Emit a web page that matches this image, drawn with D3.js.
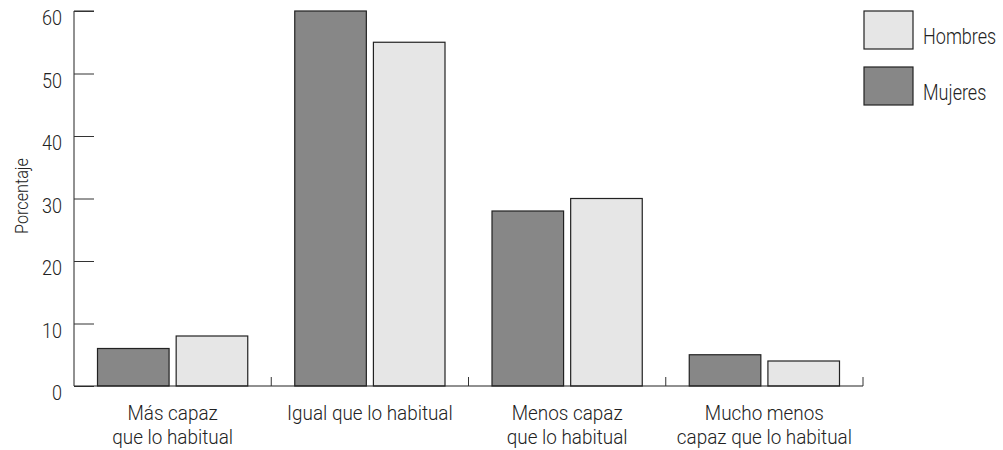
<!DOCTYPE html>
<html><head><meta charset="utf-8">
<script src="https://cdn.jsdelivr.net/npm/d3@7"></script>
<style>body{margin:0;background:#fff}text{font-family:Roboto,"Noto Sans",sans-serif;font-weight:300;fill:#222}</style>
</head><body>
<svg id="c" width="1003" height="450"></svg>
<script>
const categories = [["Más capaz","que lo habitual"],["Igual que lo habitual"],["Menos capaz","que lo habitual"],["Mucho menos","capaz que lo habitual"]];
const series = ["Mujeres","Hombres"];
const mujeres = [6,60,28,5];
const hombres = [8,55,30,4];
const yTicks = [0,10,20,30,40,50,60];
const legendOrder = ["Hombres","Mujeres"];
const colors = {Mujeres:"#878787", Hombres:"#e6e6e6"};

const svg = d3.select("#c");
const mLeft = 74, mRight = 863, mTop = 11, mBottom = 386;
const x = d3.scaleBand().domain(d3.range(categories.length)).range([mLeft,mRight]).paddingInner(0).paddingOuter(0);
const xs = d3.scaleBand().domain(series).range([23.5, x.bandwidth()-23.5]).paddingInner(0.09);
const y = d3.scaleLinear().domain([0,60]).range([mBottom,mTop]);

// condensed-looking text helper
function ctext(px, py, str, size, sx, anchor, rot){
  return svg.append("g").attr("transform",`translate(${px},${py}) rotate(${rot||0}) scale(${sx},1)`)
    .append("text").attr("text-anchor",anchor||"start").attr("font-size",size).text(str);
}

const vals = {Mujeres:mujeres, Hombres:hombres};
const g = svg.append("g");
series.forEach(s=>{
  g.selectAll(null).data(vals[s]).enter().append("rect")
    .attr("x",(d,i)=>x(i)+xs(s)).attr("width",xs.bandwidth())
    .attr("y",d=>y(d)).attr("height",d=>y(0)-y(d))
    .attr("fill",colors[s]).attr("stroke","#222").attr("stroke-width",1.2);
});

// y axis
const ya = svg.append("g").attr("transform",`translate(${mLeft},0)`)
  .call(d3.axisRight(y).tickValues(yTicks).tickSize(20).tickFormat(""));
ya.select(".domain").attr("d",`M20,${mTop}H0V${mBottom}`).attr("stroke","#222");
ya.selectAll(".tick line").attr("stroke","#333");
yTicks.forEach(d=>ctext(62, y(d)+14, d, 21, 0.86, "end"));

// x axis
const boundaries = d3.range(1,categories.length+1).map(i=>mLeft+i*x.bandwidth());
svg.append("line").attr("x1",mLeft).attr("x2",mRight).attr("y1",mBottom).attr("y2",mBottom).attr("stroke","#222").attr("stroke-width",1.2);
svg.selectAll(".xt").data(boundaries).enter().append("line")
  .attr("x1",d=>d).attr("x2",d=>d).attr("y1",mBottom).attr("y2",mBottom-9).attr("stroke","#333");
categories.forEach((lines,i)=>{
  const cx = x(i)+x.bandwidth()/2;
  lines.forEach((l,j)=>ctext(cx, 420+j*23.5, l, 21, 0.9, "middle"));
});

ctext(28, 196, "Porcentaje", 18, 0.9, "middle", -90);

// legend
legendOrder.forEach((s,i)=>{
  const yy = 11 + i*56;
  svg.append("rect").attr("x",864).attr("y",yy).attr("width",49).attr("height",38)
    .attr("fill",colors[s]).attr("stroke","#222").attr("stroke-width",1.2);
  ctext(923, yy+33, s, 22, 0.82, "start");
});
</script>
</body></html>
